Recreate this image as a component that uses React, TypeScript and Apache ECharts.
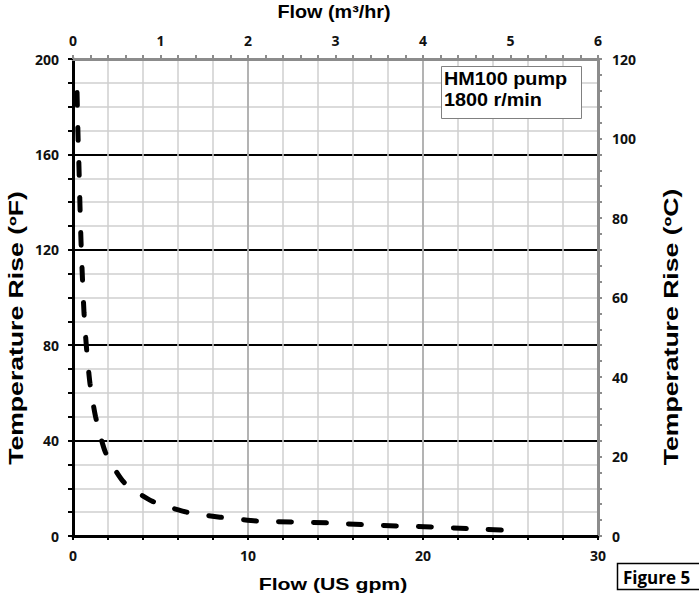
import React, { useEffect, useRef } from 'react';
import * as echarts from 'echarts';

// Curve: flow (US gpm) vs temperature rise (°F)
const flowGpm = [0.23, 0.29, 0.34, 0.4, 0.46, 0.54, 0.63, 0.77, 0.97, 1.29, 1.86, 2.9, 4.5, 6.5, 8.4, 10.5, 12.5, 14.5, 16.5, 18.5, 20.5, 22.5, 25.1];
const tempRiseF = [186, 167, 155, 138, 123, 108, 93.5, 79, 64, 50, 35, 22.6, 14.7, 10, 7.9, 6.3, 5.9, 5.5, 4.8, 4.2, 3.8, 3.1, 2.3];

// Tick labels
const gpmLabels = [0, 10, 20, 30];
const m3hrLabels = [0, 1, 2, 3, 4, 5, 6];
const degFLabels = [0, 40, 80, 120, 160, 200];
const degCLabels = [0, 20, 40, 60, 80, 100, 120];

// Texts
const bottomTitle = 'Flow (US gpm)';
const topTitle = 'Flow (m³/hr)';
const leftTitle = 'Temperature Rise (ºF)';
const rightTitle = 'Temperature Rise (ºC)';
const legendLines = ['HM100 pump', '1800 r/min'];
const figureLabel = 'Figure 5';

const has = (arr: number[], v: number) => arr.some((a) => Math.abs(a - v) < 1e-6);

export default function App() {
  const ref = useRef<HTMLDivElement>(null);
  useEffect(() => {
    const chart = echarts.init(ref.current!, null, { renderer: 'svg' });
    const tickFont = { fontFamily: 'Open Sans', fontWeight: 'bold' as const, fontSize: 14, color: '#111' };
    const titleFont = 'bold 17px "Liberation Sans", Arial, sans-serif';
    const sideFont = 'bold 20px "Liberation Sans", Arial, sans-serif';
    const legendFont = 'bold 18px "Liberation Sans", Arial, sans-serif';
    const gray = '#8c8c8c';
    const lightGrid = '#cfcfcf';
    chart.setOption({
      animation: false,
      backgroundColor: '#fff',
      grid: { left: 73, top: 59, width: 525, height: 477, containLabel: false },
      xAxis: [
        {
          type: 'value', position: 'bottom', min: 0, max: 30, interval: 2,
          axisLine: { show: true, onZero: false, lineStyle: { color: '#000', width: 3 } },
          axisTick: { show: true, length: 4, lineStyle: { color: '#000', width: 2 } },
          axisLabel: { ...tickFont, margin: 12, formatter: (v: number) => (has(gpmLabels, v) ? String(v) : '') },
          splitLine: { show: true, lineStyle: { color: lightGrid, width: 1.5 } },
        },
        {
          type: 'value', position: 'bottom', min: 0, max: 30, interval: 10,
          axisLine: { show: false }, axisTick: { show: false }, axisLabel: { show: false },
          splitLine: { show: true, showMinLine: false, showMaxLine: false, lineStyle: { color: '#a6a6a6', width: 1.5 } },
        },
        {
          type: 'value', position: 'top', min: 0, max: 6, interval: 0.2,
          axisLine: { show: true, onZero: false, lineStyle: { color: gray, width: 3 } },
          axisTick: { show: true, length: 4, lineStyle: { color: gray, width: 2 } },
          axisLabel: { ...tickFont, margin: 12, formatter: (v: number) => (has(m3hrLabels, v) ? String(Math.round(v)) : '') },
          splitLine: { show: false },
        },
      ],
      yAxis: [
        {
          type: 'value', position: 'left', min: 0, max: 200, interval: 10,
          axisLine: { show: true, onZero: false, lineStyle: { color: '#000', width: 3 } },
          axisTick: { show: true, length: 5, lineStyle: { color: '#000', width: 2 } },
          axisLabel: { ...tickFont, margin: 14, formatter: (v: number) => (has(degFLabels, v) ? String(v) : '') },
          splitLine: { show: true, lineStyle: { color: lightGrid, width: 1.5 } },
        },
        {
          type: 'value', position: 'right', min: 0, max: 120, interval: 4,
          axisLine: { show: true, onZero: false, lineStyle: { color: gray, width: 3 } },
          axisTick: { show: true, length: 4, lineStyle: { color: gray, width: 2 } },
          axisLabel: { ...tickFont, margin: 14, formatter: (v: number) => (has(degCLabels, v) ? String(v) : '') },
          splitLine: { show: false },
        },
        {
          type: 'value', position: 'left', min: 0, max: 200, interval: 40,
          axisLine: { show: false }, axisTick: { show: false }, axisLabel: { show: false },
          splitLine: { show: true, showMinLine: false, showMaxLine: false, lineStyle: { color: '#000', width: 2 } },
        },
      ],
      series: [
        {
          type: 'line',
          xAxisIndex: 0,
          yAxisIndex: 0,
          data: flowGpm.map((x, i) => [x, tempRiseF[i]]),
          showSymbol: false,
          smooth: 0.2,
          z: 10,
          lineStyle: { color: '#000', width: 5, type: [13, 22], cap: 'round' },
        },
      ],
      graphic: [
        { type: 'text', x: 334, y: 12, z: 20, scaleX: 1.1,
          style: { text: topTitle, font: 'bold 18px "Liberation Sans", Arial, sans-serif', fill: '#000', align: 'center', verticalAlign: 'middle' } },
        { type: 'text', x: 333, y: 584, z: 20, scaleX: 1.25,
          style: { text: bottomTitle, font: titleFont, fill: '#000', align: 'center', verticalAlign: 'middle' } },
        { type: 'text', x: 16, y: 328, z: 20, rotation: Math.PI / 2, scaleX: 1.33,
          style: { text: leftTitle, font: sideFont, fill: '#000', align: 'center', verticalAlign: 'middle' } },
        { type: 'text', x: 671, y: 327, z: 20, rotation: Math.PI / 2, scaleX: 1.33,
          style: { text: rightTitle, font: sideFont, fill: '#000', align: 'center', verticalAlign: 'middle' } },
        { type: 'rect', z: 20, shape: { x: 441.5, y: 66.5, width: 140, height: 52 },
          style: { fill: '#fff', stroke: '#808080', lineWidth: 1 } },
        { type: 'text', x: 444, y: 89.5, z: 21, scaleX: 1.1,
          style: { text: legendLines.join('\n'), font: legendFont, lineHeight: 21, fill: '#000', align: 'left', verticalAlign: 'middle' } },
        { type: 'rect', z: 20, shape: { x: 617.5, y: 563.5, width: 90, height: 26 },
          style: { fill: '#fff', stroke: '#000', lineWidth: 1.5 } },
        { type: 'text', x: 623, y: 577, z: 21,
          style: { text: figureLabel, font: 'bold 17px "Open Sans", sans-serif', fill: '#000', align: 'left', verticalAlign: 'middle' } },
      ],
    });
    return () => chart.dispose();
  }, []);
  return (
    <div
      ref={ref}
      style={{ position: 'fixed', left: 0, top: 0, width: 699, height: 597, background: '#fff' }}
    />
  );
}
